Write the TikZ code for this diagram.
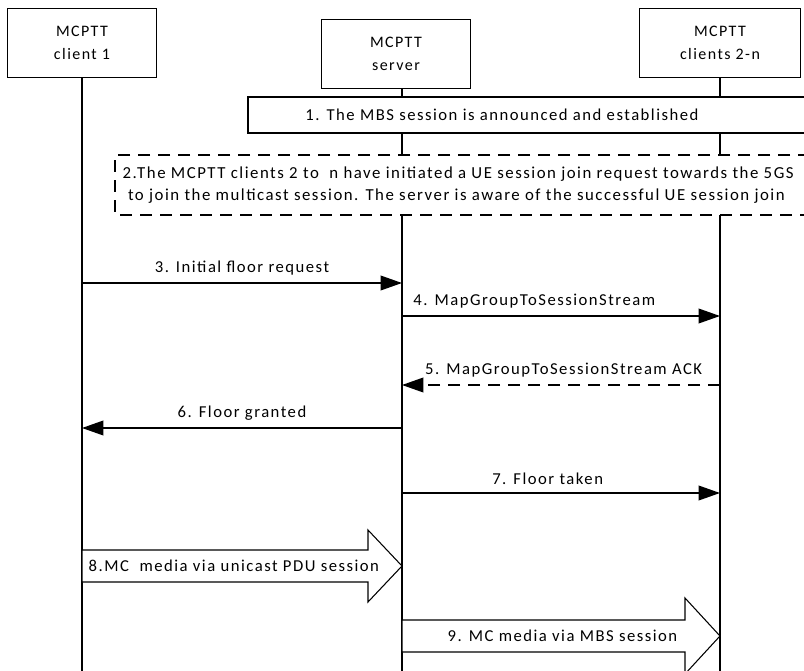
\documentclass[tikz,border=0pt]{standalone}
\usepackage{fontspec}
\setmainfont{Carlito}[LetterSpace=9]
\usepackage{tikz}
\usetikzlibrary{arrows.meta,positioning}

\begin{document}
\begin{tikzpicture}[x=0.75pt,y=-0.75pt,
    entity/.style={draw,line width=0.8pt,fill=white,minimum width=112pt,minimum height=52pt,align=center,font=\fontsize{12}{17}\selectfont},
    lifeline/.style={line width=1.1pt},
    msg/.style={-{Triangle[length=16pt,width=11pt]},line width=1.1pt},
    ret/.style={msg,dash pattern=on 9pt off 6pt},
    lbl/.style={above=4.5pt,font=\fontsize{12.5}{14}\selectfont,inner sep=1pt},
    txt/.style={font=\fontsize{12.5}{14}\selectfont},
    media/.style={draw,line width=0.8pt,fill=white}
]
\clip (0,0) rectangle (804,671);
\fill[white] (0,0) rectangle (804,671);

\node[entity] (client1) at (82,43) {MCPTT\\client 1};
\node[entity] (server) at (396,54) {MCPTT\\server};
\node[entity,minimum width=121pt] (clients) at (720,43) {MCPTT\\clients 2-n};

\coordinate (c1end) at (82,675);
\coordinate (srvend) at (402,675);
\coordinate (clend) at (720,675);
\draw[lifeline] (client1.south -| c1end) -- (c1end);
\draw[lifeline] (server.south -| srvend) -- (srvend);
\draw[lifeline] (clients.south -| clend) -- (clend);

% step 1
\fill[white] (248,97) rectangle (810,133);
\draw[line width=0.8pt] (810,97) -- (248,97) -- (248,133) -- (810,133);
\node[txt] (s1) at (502,115) {1. The MBS session is announced and established};

% step 2
\fill[white] (115,155) rectangle (810,215);
\draw[line width=0.8pt,dash pattern=on 9pt off 6pt] (810,155) -- (115,155) -- (115,215) -- (810,215);
\node[font=\fontsize{12.6}{17}\selectfont,align=left,anchor=west] (s2) at (118,185)
  {2.The MCPTT clients 2 to\ \ n have initiated a UE session join request towards the 5GS\\
  \ to join the multicast session. The server is aware of the successful UE session join};

% messages
\coordinate (r3) at (0,283);
\coordinate (r4) at (0,316);
\coordinate (r5) at (0,385);
\coordinate (r6) at (0,428);
\coordinate (r7) at (0,493);
\draw[msg] (c1end |- r3) -- node[lbl]{3. Initial floor request} (srvend |- r3);
\draw[msg] (srvend |- r4) -- node[lbl,xshift=-20pt]{4. MapGroupToSessionStream} (clend |- r4);
\draw[ret] (clend |- r5) -- node[lbl,xshift=2pt]{5. MapGroupToSessionStream ACK} (srvend |- r5);
\draw[msg] (srvend |- r6) -- node[lbl]{6. Floor granted} (c1end |- r6);
\draw[msg] (srvend |- r7) -- node[lbl,xshift=-10pt]{7. Floor taken} (clend |- r7);

% media
\coordinate (r8) at (0,566);
\coordinate (r9) at (0,636);
\draw[media] (c1end |- r8) ++(0,-16) -- ++(286,0) -- ++(0,-20) -- (srvend |- r8)
  -- ++(-34,36) -- ++(0,-20) -- ++(-286,0) -- cycle;
\node[txt,anchor=west] (m8) at (84,566) {8.MC\ \ media via unicast PDU session};
\draw[media] (srvend |- r9) ++(0,-16) -- ++(283,0) -- ++(0,-22) -- (clend |- r9)
  -- ++(-35,38) -- ++(0,-22) -- ++(-283,0) -- cycle;
\node[txt,anchor=east] (m9) at (682,636) {9. MC media via MBS session};
\end{tikzpicture}
\end{document}
